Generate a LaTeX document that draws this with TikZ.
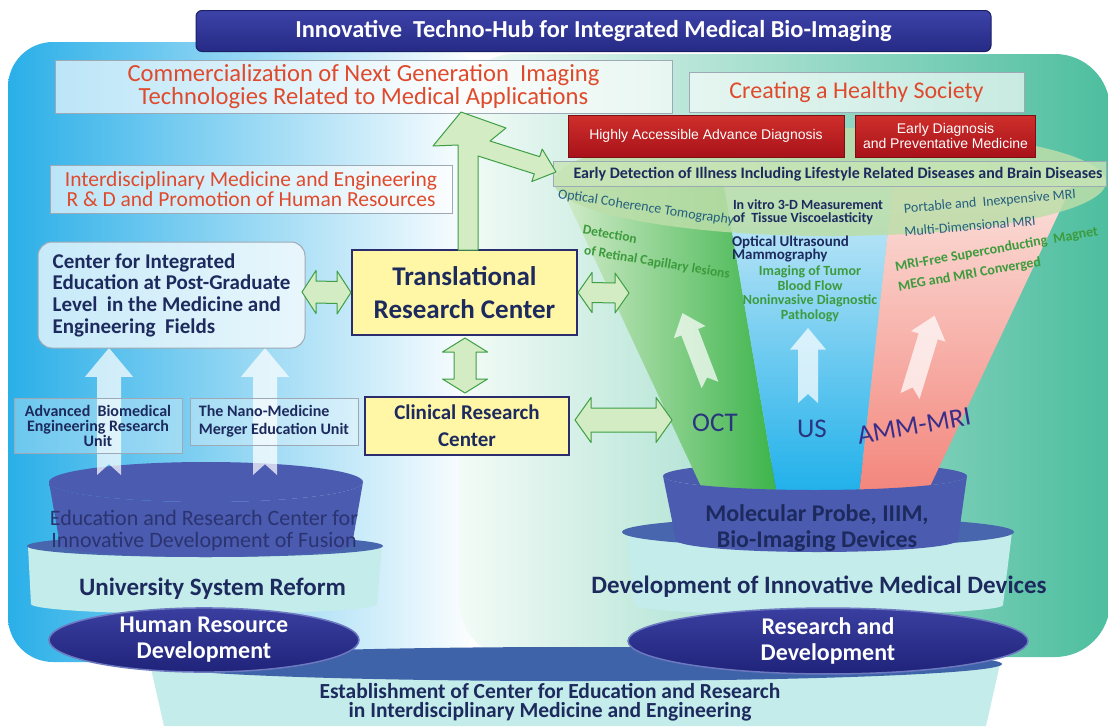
\documentclass[tikz,border=0pt]{standalone}
\usepackage{fontspec}
\setmainfont{Carlito}
\newfontfamily\arialf{Liberation Sans}
\usetikzlibrary{calc,shapes.geometric}
\newcommand\fs[2]{\fontsize{#1}{#2}\selectfont}
\definecolor{skyL}{HTML}{2AAFE8}
\definecolor{mintL}{HTML}{F3FBF7}
\definecolor{tealR}{HTML}{4DBE9F}
\definecolor{cyanbody}{HTML}{C4ECEA}
\definecolor{barblue}{HTML}{3F63A9}
\definecolor{titleT}{HTML}{3D43A8}
\definecolor{titleB}{HTML}{252A85}
\definecolor{titleD}{HTML}{1A1F66}
\definecolor{redtxt}{HTML}{E04A2C}
\definecolor{redT}{HTML}{CF2F2B}
\definecolor{redB}{HTML}{A8121A}
\definecolor{redD}{HTML}{7E0E12}
\definecolor{navy}{HTML}{1D2A5E}
\definecolor{gL}{HTML}{D4ECCB}
\definecolor{gR}{HTML}{3CB44B}
\definecolor{bT}{HTML}{CDEBF8}
\definecolor{bB}{HTML}{1FB0EA}
\definecolor{pT}{HTML}{FBE0DB}
\definecolor{pB}{HTML}{F3857B}
\definecolor{bandg}{HTML}{BCDEA9}
\definecolor{ebarfill}{HTML}{C8E5B6}
\definecolor{cylblue}{HTML}{4A5BB0}
\definecolor{cyllav}{HTML}{DCD6F0}
\definecolor{brimblue}{HTML}{4766AD}
\definecolor{ellT}{HTML}{3A3FA0}
\definecolor{ellB}{HTML}{1F237A}
\definecolor{ellD}{HTML}{6C78C0}
\definecolor{yfill}{HTML}{FFF7A6}
\definecolor{yborder}{HTML}{2B2C6E}
\definecolor{gafill}{HTML}{D3ECC3}
\definecolor{gadraw}{HTML}{3F9F45}
\definecolor{gtxt}{HTML}{3C9B3C}
\definecolor{tealtxt}{HTML}{245F7F}
\definecolor{boxgray}{HTML}{9DAAB5}
\definecolor{lblblue}{HTML}{2A3580}
\definecolor{lblpurp}{HTML}{3A2E8A}
\definecolor{cyltxt}{HTML}{2B3470}
\tikzset{
  every node/.style={inner sep=0pt, outer sep=0pt},
  pbox/.style={draw=boxgray, line width=0.8pt, fill=white, fill opacity=0.65, text opacity=1},
  sbox/.style={draw=boxgray, line width=0.8pt, fill=white, fill opacity=0.3, text opacity=1, text=navy},
  cbox/.style={draw=boxgray, line width=1pt, fill=white, fill opacity=0.72, text opacity=1},
  redbox/.style={draw=redD, line width=1pt, top color=redT, bottom color=redB, text=white, font=\arialf\fs{14}{15}, align=center},
  ybox/.style={draw=yborder, line width=1.6pt, fill=yfill, text=navy, font=\bfseries\fs{21}{27}, align=center},
  garrow/.style={draw=gadraw, line width=1pt, fill=gafill, line join=round},
  warr/.style={fill=white, fill opacity=0.72},
  ellnode/.style={ellipse, draw=ellD, line width=1.5pt, top color=ellT, bottom color=ellB, text=white, font=\bfseries\fs{24}{26}, align=center},
}
\newcommand\hdbl[5]{%
  \draw[garrow] (#1) -- ($(#1)+(#5,-#3)$) -- ($(#1)+(#5,-#4)$) -- ($(#2)+(-#5,-#4)$) -- ($(#2)+(-#5,-#3)$) -- (#2) -- ($(#2)+(-#5,#3)$) -- ($(#2)+(-#5,#4)$) -- ($(#1)+(#5,#4)$) -- ($(#1)+(#5,#3)$) -- cycle;}
\newcommand\vdbl[5]{%
  \draw[garrow] (#1) -- ($(#1)+(#3,#5)$) -- ($(#1)+(#4,#5)$) -- ($(#2)+(#4,-#5)$) -- ($(#2)+(#3,-#5)$) -- (#2) -- ($(#2)+(-#3,-#5)$) -- ($(#2)+(-#4,-#5)$) -- ($(#1)+(-#4,#5)$) -- ($(#1)+(-#3,#5)$) -- cycle;}
\newcommand\warrow[6]{%
  \begin{scope}[shift={(#1,#2)},rotate=#3]
  \fill[warr] ({-#5},0) -- ({-#5},{-#4+1.2*#6}) -- ({-#6},{-#4+1.2*#6}) -- (0,{-#4}) -- ({#6},{-#4+1.2*#6}) -- ({#5},{-#4+1.2*#6}) -- ({#5},0) -- (0,{-0.9*#5}) -- cycle;
  \end{scope}}
\begin{document}
\begin{tikzpicture}[x=1pt,y=-1pt]
\useasboundingbox (0,0) rectangle (1108,726);
\fill[white] (0,0) rectangle (1108,726);
% panels
\shade[left color=skyL, right color=white, rounded corners=45] (8,42) rectangle (478,662);
\shade[left color=mintL, right color=tealR, rounded corners=55] (459,54) rectangle (1110,657);
% bottom bar
\fill[cyanbody] (150,664) -- (1000,664) -- (986,726) -- (164,726) -- cycle;
\fill[barblue] (575,664) ellipse [x radius=427, y radius=17];
\node[text=navy, font=\bfseries\fs{21.5}{19}, align=center] (estab) at (550,702) {Establishment of Center for Education and Research\\in Interdisciplinary Medicine and Engineering};
% title
\node[draw=titleD, line width=1pt, top color=titleT, bottom color=titleB, rounded corners=6, minimum width=795, minimum height=41, text=white, font=\bfseries\fs{24.4}{24}] (title) at (593.5,31) {Innovative\ \ Techno-Hub for Integrated Medical Bio-Imaging};
% top boxes
\node[pbox, minimum width=617, minimum height=53, font=\fs{24.6}{21}, text=redtxt, align=center] (comm) at (363.5,86.5) {Commercialization of Next Generation\ \ Imaging\\Technologies Related to Medical Applications};
\node[pbox, minimum width=335, minimum height=40, font=\fs{24}{24}, text=redtxt] (heal) at (856.5,92) {Creating a Healthy Society};
% right cylinder (back parts)
\fill[cyanbody] (626,532) -- (1012,532) -- (1003,605) arc[start angle=0, end angle=180, x radius=184, y radius=10] -- cycle;
\fill[brimblue] (818,532) ellipse [x radius=196, y radius=15];
\fill[cylblue] (815,476) ellipse [x radius=152, y radius=14];
% funnel strips
\shade[left color=gL, right color=gR] (560,185) -- (724,185) -- (777,495) -- (705,495) -- cycle;
\shade[top color=bT, bottom color=bB] (724,185) -- (893,185) -- (859,495) -- (777,495) -- cycle;
\shade[top color=pT, bottom color=pB] (893,185) -- (1072,185) -- (926,495) -- (859,495) -- cycle;
% right cylinder body
\shade[left color=cylblue, middle color=cyllav, right color=cylblue] (663,476) arc[start angle=180, end angle=0, x radius=152, y radius=14] -- (958,540) arc[start angle=0, end angle=180, x radius=141, y radius=12] -- cycle;
\node[text=navy, font=\bfseries\fs{24}{26}, align=center] (mpb) at (817,528) {Molecular Probe, IIIM,\\Bio-Imaging Devices};
\node[text=navy, font=\bfseries\fs{25}{25}] (dimd) at (819,587) {Development of Innovative Medical Devices};
% band
\fill[bandg, fill opacity=0.85] (830,182) ellipse [x radius=276, y radius=54];
\node[draw=boxgray, line width=0.8pt, fill=ebarfill, fill opacity=0.8, minimum width=553, minimum height=25] (early) at (829.5,173.5) {};
\node[text=navy, font=\bfseries\fs{16}{16}] (earlyt) at (838,174) {Early Detection of Illness Including Lifestyle Related Diseases and Brain Diseases};
\node[redbox, minimum width=276, minimum height=42] (acc) at (706,136) {Highly Accessible Advance Diagnosis};
\node[redbox, minimum width=180, minimum height=42] (prev) at (945.5,136) {Early Diagnosis\\and Preventative Medicine};
% funnel texts
\node[font=\fs{14}{14}, text=tealtxt, rotate=-8.6] (oct1) at (646,208) {Optical Coherence Tomography};
\node[font=\bfseries\fs{14}{13.5}, text=navy, align=left, anchor=west] (vit) at (733,212) {In vitro 3-D Measurement\\of\ \ Tissue Viscoelasticity};
\node[font=\fs{14}{14}, text=tealtxt, rotate=5] (pim) at (990,202) {Portable and\ \ Inexpensive MRI};
\node[font=\fs{14}{14}, text=tealtxt, rotate=5] (mdm) at (970,226) {Multi-Dimensional MRI};
\node[font=\bfseries\fs{13.5}{14}, text=gtxt, rotate=-10] (det1) at (610,234) {Detection};
\node[font=\bfseries\fs{13.5}{14}, text=gtxt, rotate=-9.5] (det2) at (657,263) {of Retinal Capillary lesions};
\node[font=\bfseries\fs{15}{13}, text=navy, align=left, anchor=west] (oum) at (732,249) {Optical Ultrasound\\Mammography};
\node[font=\bfseries\fs{14}{14.5}, text=gtxt, align=center] (itm) at (810,294) {Imaging of Tumor\\Blood Flow\\Noninvasive Diagnostic\\Pathology};
\node[font=\bfseries\fs{14}{14}, text=gtxt, rotate=10, anchor=base west] (mri1) at (896,271) {MRI-Free Superconducting\ \ Magnet};
\node[font=\bfseries\fs{14}{14}, text=gtxt, rotate=10, anchor=base west] (mri2) at (899,291) {MEG and MRI Converged};
\warrow{710}{385}{21}{77}{9}{17}
\warrow{808}{403}{0}{75}{10}{18}
\warrow{910}{396}{-17}{84}{10}{18}
\node[font=\fs{27}{27}, text=lblblue] (loct) at (715,423) {OCT};
\node[font=\fs{27}{27}, text=lblblue] (lus) at (812,429) {US};
\node[font=\fs{27}{27}, text=lblpurp, rotate=10] (lamm) at (914,426) {AMM-MRI};
% left cylinder
\fill[cyanbody] (28,546) -- (382,546) -- (377,604) arc[start angle=0, end angle=180, x radius=173, y radius=10] -- cycle;
\fill[brimblue] (205,546) ellipse [x radius=178, y radius=11];
\shade[left color=cylblue, middle color=cyllav, right color=cylblue] (49,482) arc[start angle=180, end angle=0, x radius=157, y radius=20] -- (352,545) arc[start angle=0, end angle=180, x radius=146, y radius=12] -- cycle;
\fill[cylblue] (206,482) ellipse [x radius=157, y radius=20];
\node[text=cyltxt, font=\fs{22}{22}, align=center] (ercf) at (204,531) {Education and Research Center for\\Innovative Development of Fusion};
\node[text=navy, font=\bfseries\fs{25}{25}] (usr) at (212.5,589) {University System Reform};
% left white arrows
\warrow{109}{475}{0}{127}{12}{24}
\warrow{265}{475}{0}{127}{12}{24}
% left boxes
\node[pbox, minimum width=402, minimum height=48, text=redtxt, font=\fs{21.5}{18.5}, align=center] (idr) at (251,189) {Interdisciplinary Medicine and Engineering\\R \& D and Promotion of Human Resources};
\node[cbox, rounded corners=14, minimum width=267, minimum height=106, text=navy, font=\bfseries\fs{21}{21.7}, align=left] (cib) at (171.5,295) {Center for Integrated\\Education at Post-Graduate\\Level\ \ in the Medicine and\\Engineering\ \ Fields};
\node[sbox, minimum width=168, minimum height=55, align=center, font=\bfseries\fs{16}{15}] (abe) at (98,425.5) {Advanced\ \ Biomedical\\Engineering Research\\Unit};
\node[sbox, minimum width=168, minimum height=47, align=left, font=\bfseries\fs{16}{18}] (nmm) at (274,421.5) {The Nano-Medicine\\Merger Education Unit};
\node[ybox, minimum width=225, minimum height=85, font=\bfseries\fs{27}{33}] (trc) at (464.5,292.5) {Translational\\Research Center};
\node[ybox, minimum width=204, minimum height=58] (crc) at (467,426) {Clinical Research\\Center};
% green arrows
\draw[garrow] ($(trc.north)+(-6.5,0)$) -- (458,145) -- (433,146) -- (461,112) -- (506,128) -- (490,141) -- (539.7,156.7) -- (542.2,149.1) -- ($(early.west)+(3,-1.5)$) -- (531.8,181.5) -- (534.3,173.9) -- (478,156) -- ($(trc.north)+(13.5,0)$) -- cycle;
\coordinate (a1l) at ($(cib.east)+(-3,-3)$);
\coordinate (a1r) at ($(trc.west)+(-1,0)$);
\hdbl{a1l}{a1r}{21.5}{11}{14}
\coordinate (a2l) at ($(trc.east)+(1,0)$);
\coordinate (a2r) at (629,293);
\hdbl{a2l}{a2r}{20}{10}{14}
\coordinate (a3t) at ($(trc.south)+(0.5,3)$);
\coordinate (a3b) at ($(crc.north)+(-2,-4)$);
\vdbl{a3t}{a3b}{22.5}{11}{14}
\coordinate (a4l) at ($(crc.east)+(6,-6)$);
\coordinate (a4r) at (672,420);
\hdbl{a4l}{a4r}{22.5}{12}{16}
% ellipses
\node[ellnode, minimum width=310, minimum height=56] (hrd) at (204,640) {Human Resource\\Development};
\node[ellnode, minimum width=400, minimum height=62] (rnd) at (828,641) {Research and\\Development};
\end{tikzpicture}
\end{document}
